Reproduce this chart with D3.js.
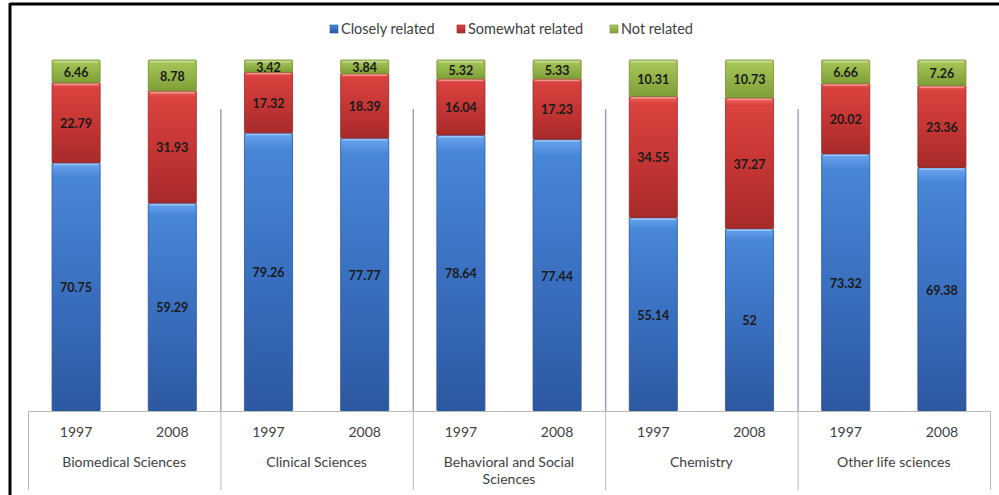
<!DOCTYPE html>
<html><head><meta charset="utf-8">
<script src="https://cdn.jsdelivr.net/npm/d3@7"></script>
<style>body{margin:0;background:#fff;} svg{display:block;}</style>
</head><body>
<script>
const categories = ["Biomedical Sciences","Clinical Sciences","Behavioral and Social Sciences","Chemistry","Other life sciences"];
const years = ["1997","2008"];
const seriesNames = ["Closely related","Somewhat related","Not related"];
const closely = [70.75,59.29,79.26,77.77,78.64,77.44,55.14,52,73.32,69.38];
const somewhat = [22.79,31.93,17.32,18.39,16.04,17.23,34.55,37.27,20.02,23.36];
const notRelated = [6.46,8.78,3.42,3.84,5.32,5.33,10.31,10.73,6.66,7.26];

const W=999,H=495;
const svg=d3.select("body").append("svg").attr("width",W).attr("height",H);
const defs=svg.append("defs");
const pal=[
 {id:"gb",stops:["#6aa6ee","#4886d8","#3a70c0","#2c58a0"],edge:"#2a5496"},
 {id:"gr",stops:["#f06a62","#da423e","#c53634","#a82a2a"],edge:"#982626"},
 {id:"gg",stops:["#c2dc7a","#a6c659","#93b448","#7f9f38"],edge:"#728f32"}
];
pal.forEach(p=>{
  const g=defs.append("linearGradient").attr("id",p.id).attr("x1",0).attr("y1",0).attr("x2",0).attr("y2",1);
  [0,0.06,0.5,1].forEach((o,i)=>g.append("stop").attr("offset",o).attr("stop-color",p.stops[i]));
});

// outer border
svg.append("line").attr("x1",10).attr("x2",W).attr("y1",4).attr("y2",4).attr("stroke","#000").attr("stroke-width",3);
svg.append("line").attr("x1",10).attr("x2",10).attr("y1",3).attr("y2",H).attr("stroke","#000").attr("stroke-width",3);

const x0=28,x1=990,yTop=60,yBase=411;
const idx=d3.range(closely.length);
const x=d3.scaleBand().domain(idx).range([x0,x1]).paddingInner(0.5).paddingOuter(0.25);
const xg=d3.scaleBand().domain(categories).range([x0,x1]);
const y=d3.scaleLinear().domain([0,100]).range([yBase,yTop]);

const series=[closely,somewhat,notRelated];
const stackData=idx.map(i=>({i,c:closely[i],s:somewhat[i],n:notRelated[i]}));
const stacked=d3.stack().keys(["c","s","n"])(stackData);

// separators in plot area
const gridC="#8a90b0";
categories.slice(1).forEach(c=>{
  svg.append("line").attr("x1",xg(c)+0.5).attr("x2",xg(c)+0.5).attr("y1",109).attr("y2",yBase)
    .attr("stroke",gridC).attr("stroke-width",1.2);
});

// bars
stacked.forEach((layer,k)=>{
  const g=svg.append("g");
  g.selectAll("rect.seg").data(layer).join("rect")
    .attr("x",d=>x(d.data.i)).attr("width",x.bandwidth())
    .attr("y",d=>y(d[1])).attr("height",d=>y(d[0])-y(d[1]))
    .attr("fill",`url(#${pal[k].id})`).attr("stroke",pal[k].edge).attr("stroke-width",0.8).attr("rx",1);
  g.selectAll("rect.hl").data(layer).join("rect")
    .attr("x",d=>x(d.data.i)+2).attr("width",x.bandwidth()-4)
    .attr("y",d=>y(d[1])+1).attr("height",1.5)
    .attr("fill","#fff").attr("opacity",0.35);
  g.selectAll("text").data(layer).join("text")
    .attr("x",d=>x(d.data.i)+x.bandwidth()/2)
    .attr("y",d=>(y(d[0])+y(d[1]))/2+1)
    .attr("dy","0.36em").attr("text-anchor","middle")
    .attr("font-family","Lato, 'Open Sans', sans-serif").attr("font-weight","bold").attr("font-size",12.5)
    .attr("fill","#1a1a1a")
    .text(d=>String(series[k][d.data.i]));
});

// category axis (multi-level)
const axC="#b8b8b8";
const ax=svg.append("g");
ax.append("line").attr("x1",x0).attr("x2",x1).attr("y1",yBase+0.5).attr("y2",yBase+0.5).attr("stroke",axC);
[x0,...categories.slice(1).map(c=>xg(c)),x1].forEach(v=>{
  ax.append("line").attr("x1",v+0.5).attr("x2",v+0.5).attr("y1",yBase).attr("y2",490).attr("stroke",axC);
});
const font="Lato, 'Open Sans', sans-serif";
ax.selectAll("text.yr").data(idx).join("text")
  .attr("x",i=>x(i)+x.bandwidth()/2).attr("y",437).attr("text-anchor","middle")
  .attr("font-family",font).attr("font-size",14).attr("fill","#404040")
  .text(i=>years[i%2]);
const wrapLines={"Behavioral and Social Sciences":["Behavioral and Social","Sciences"]};
categories.forEach(c=>{
  const lines=wrapLines[c]||[c];
  const t=ax.append("text").attr("x",xg(c)+xg.bandwidth()/2).attr("y",467).attr("text-anchor","middle")
    .attr("font-family",font).attr("font-size",14).attr("fill","#404040");
  lines.forEach((l,j)=>t.append("tspan").attr("x",xg(c)+xg.bandwidth()/2).attr("dy",j?17:0).text(l));
});

// legend
const legX=[330,457,610];
const lg=svg.append("g");
seriesNames.forEach((n,k)=>{
  lg.append("rect").attr("x",legX[k]).attr("y",25).attr("width",8).attr("height",8)
    .attr("fill",`url(#${pal[k].id})`).attr("stroke",pal[k].edge).attr("stroke-width",0.6);
  lg.append("text").attr("x",legX[k]+11).attr("y",29).attr("dy","0.36em")
    .attr("font-family",font).attr("font-size",14.5).attr("fill","#404040").text(n);
});
</script>
</body></html>
